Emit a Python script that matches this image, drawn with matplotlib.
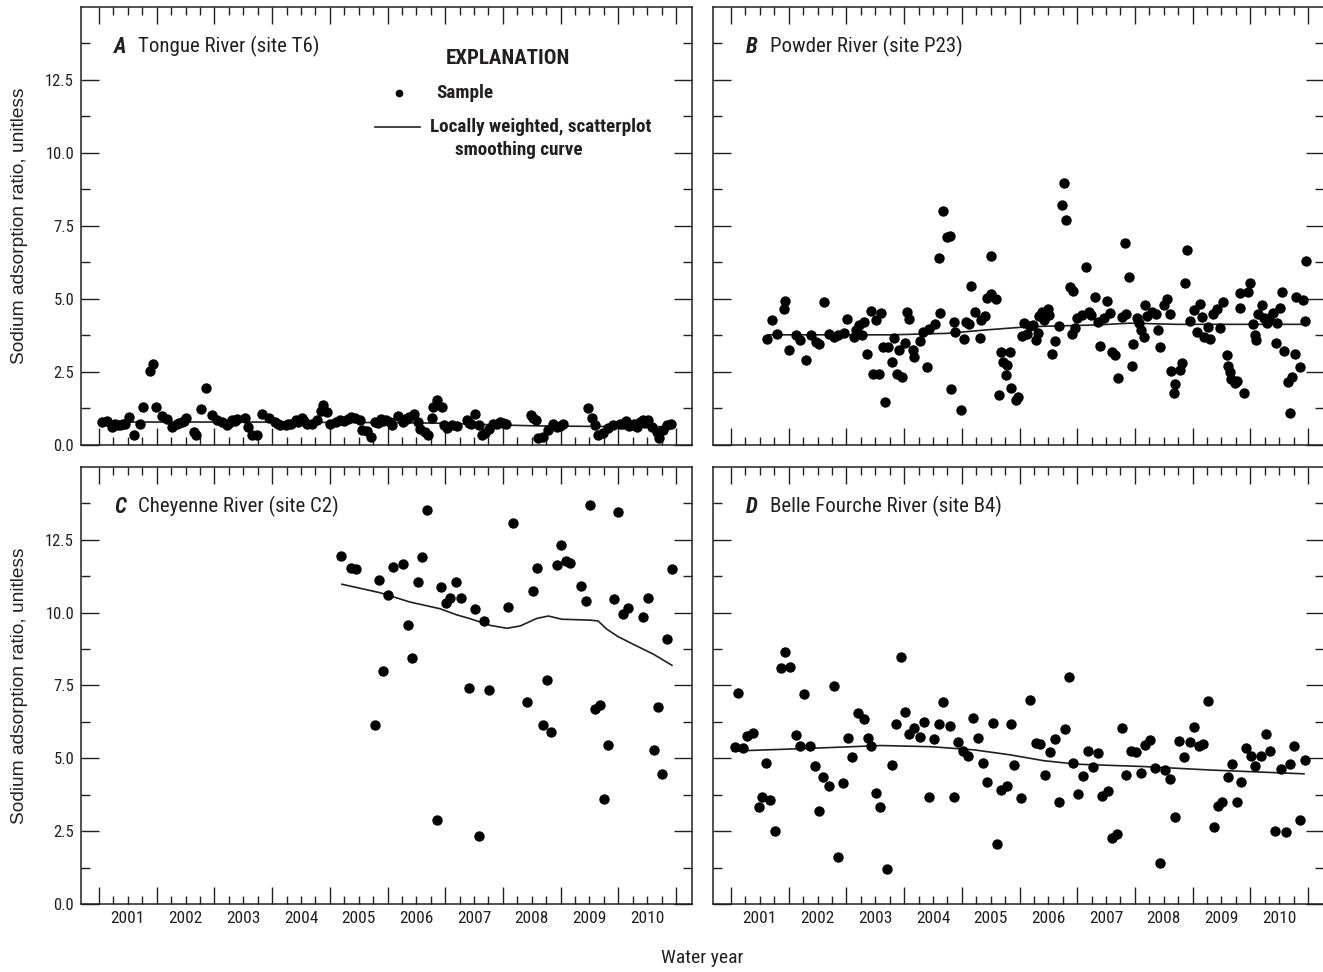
import matplotlib
matplotlib.use('Agg')
import matplotlib.pyplot as plt
from matplotlib import font_manager
from matplotlib.ticker import FixedLocator, FixedFormatter, NullFormatter
from matplotlib.lines import Line2D
import numpy as np

# ---------------- data (decimal calendar year, SAR) ----------------
a_year = [2000.81, 2000.89, 2000.98, 2001.03, 2001.12, 2001.20, 2001.27, 2001.36, 2001.46, 2001.52,
          2001.64, 2001.68, 2001.74, 2001.84, 2001.93, 2002.02, 2002.10, 2002.18, 2002.26, 2002.40,
          2002.43, 2002.52, 2002.60, 2002.71, 2002.80, 2002.88, 2002.97, 2003.06, 2003.14, 2003.28,
          2003.33, 2003.41, 2003.49, 2003.58, 2003.69, 2003.80, 2003.89, 2003.99, 2004.08, 2004.16,
          2004.27, 2004.35, 2004.44, 2004.53, 2004.60, 2004.64, 2004.70, 2004.76, 2004.85, 2004.93,
          2005.11, 2005.19, 2005.28, 2005.31, 2005.39, 2005.47, 2005.54, 2005.63, 2005.72, 2005.80,
          2005.83, 2005.93, 2006.05, 2006.12, 2006.21, 2006.27, 2006.31, 2006.40, 2006.46, 2006.52,
          2006.54, 2006.60, 2006.69, 2006.73, 2006.78, 2006.86, 2006.95, 2007.12, 2007.20, 2007.27,
          2007.34, 2007.38, 2007.44, 2007.51, 2007.58, 2007.70, 2007.80, 2008.23, 2008.32, 2008.36,
          2008.45, 2008.54, 2008.61, 2008.68, 2008.80, 2009.23, 2009.29, 2009.35, 2009.40, 2009.49,
          2009.58, 2009.66, 2009.78, 2009.88, 2009.98, 2010.07, 2010.17, 2010.27, 2010.33, 2010.42,
          2010.46, 2010.53, 2010.59, 2010.66,
          2001.07, 2001.16, 2002.14, 2002.22, 2003.01, 2003.10, 2003.85, 2004.03, 2004.20, 2004.31,
          2005.00, 2005.06, 2005.58, 2005.68, 2006.01, 2006.09, 2007.16, 2007.64, 2007.75, 2008.27,
          2008.74, 2009.83, 2009.93, 2010.02, 2010.12, 2010.22]
a_sar = [0.77, 0.80, 0.60, 0.72, 0.66, 0.72, 0.95, 0.32, 0.69, 1.30,
         2.52, 2.76, 1.28, 0.97, 0.87, 0.60, 0.72, 0.78, 0.90, 0.42,
         0.31, 1.21, 1.95, 1.00, 0.83, 0.78, 0.66, 0.83, 0.87, 0.90,
         0.60, 0.32, 0.34, 1.03, 0.90, 0.78, 0.66, 0.66, 0.72, 0.83,
         0.90, 0.72, 0.72, 0.83, 1.14, 1.35, 1.12, 0.72, 0.78, 0.83,
         0.95, 0.90, 0.83, 0.49, 0.46, 0.27, 0.78, 0.87, 0.83, 0.78,
         0.66, 0.97, 0.88, 0.94, 1.06, 0.78, 0.53, 0.44, 0.32, 0.90,
         1.28, 1.53, 1.30, 0.66, 0.55, 0.66, 0.64, 0.83, 0.69, 1.06,
         0.66, 0.32, 0.38, 0.53, 0.72, 0.78, 0.72, 1.00, 0.83, 0.21,
         0.26, 0.49, 0.72, 0.60, 0.69, 1.24, 0.90, 0.66, 0.32, 0.38,
         0.55, 0.66, 0.72, 0.80, 0.66, 0.60, 0.83, 0.83, 0.60, 0.43,
         0.23, 0.49, 0.66, 0.72,
         0.66, 0.70, 0.74, 0.80, 0.74, 0.80, 0.70, 0.70, 0.78, 0.80,
         0.80, 0.86, 0.74, 0.80, 0.76, 0.86, 0.74, 0.70, 0.74, 0.90,
         0.64, 0.70, 0.64, 0.70, 0.76, 0.74]
a_fit_year = [2000.80, 2003.40, 2005.80, 2006.70, 2007.50, 2008.30, 2009.30, 2010.66]
a_fit_sar = [0.77, 0.77, 0.75, 0.73, 0.68, 0.64, 0.62, 0.61]

b_year = [2001.37, 2001.46, 2001.54, 2001.66, 2001.68, 2001.76, 2001.88, 2001.95, 2002.05, 2002.14,
          2002.23, 2002.28, 2002.37, 2002.44, 2002.53, 2002.61, 2002.70, 2002.76, 2002.88, 2002.92,
          2002.96, 2003.02, 2003.06, 2003.10, 2003.18, 2003.21, 2003.27, 2003.31, 2003.35, 2003.38,
          2003.42, 2003.47, 2003.54, 2003.58, 2003.63, 2003.67, 2003.71, 2003.77, 2003.80, 2003.84,
          2003.90, 2003.93, 2004.02, 2004.07, 2004.15, 2004.19, 2004.29, 2004.36, 2004.38, 2004.43,
          2004.49, 2004.55, 2004.57, 2004.62, 2004.64, 2004.74, 2004.78, 2004.83, 2004.88, 2004.91,
          2004.98, 2005.07, 2005.09, 2005.16, 2005.19, 2005.25, 2005.26, 2005.35, 2005.39, 2005.43,
          2005.46, 2005.52, 2005.53, 2005.59, 2005.61, 2005.69, 2005.73, 2005.80, 2005.82, 2005.88,
          2005.93, 2005.99, 2006.03, 2006.07, 2006.08, 2006.14, 2006.17, 2006.24, 2006.26, 2006.32,
          2006.36, 2006.43, 2006.49, 2006.52, 2006.56, 2006.63, 2006.66, 2006.68, 2006.72, 2006.75,
          2006.84, 2006.91, 2006.95, 2006.99, 2007.05, 2007.11, 2007.15, 2007.21, 2007.27, 2007.32,
          2007.36, 2007.41, 2007.46, 2007.53, 2007.57, 2007.60, 2007.64, 2007.70, 2007.72, 2007.79,
          2007.82, 2007.86, 2007.90, 2007.93, 2007.96, 2008.05, 2008.11, 2008.15, 2008.18, 2008.25,
          2008.30, 2008.36, 2008.38, 2008.42, 2008.45, 2008.53, 2008.57, 2008.61, 2008.66, 2008.71,
          2008.78, 2008.83, 2008.87, 2008.92, 2008.94, 2009.02, 2009.06, 2009.11, 2009.18, 2009.23,
          2009.27, 2009.34, 2009.36, 2009.40, 2009.42, 2009.48, 2009.52, 2009.57, 2009.58, 2009.64,
          2009.71, 2009.74, 2009.80, 2009.84, 2009.85, 2009.88, 2009.96, 2009.98, 2010.04, 2010.07,
          2010.15, 2010.19, 2010.22, 2010.27, 2010.30, 2010.34, 2010.40, 2010.43, 2010.48, 2010.53,
          2010.55, 2010.62, 2010.67, 2010.69, 2010.72]
b_sar = [3.63, 4.26, 3.80, 4.66, 4.92, 3.24, 3.74, 3.58, 2.89, 3.76,
         3.53, 3.45, 4.88, 3.79, 3.68, 3.76, 3.83, 4.30, 3.70, 3.93,
         4.10, 3.76, 4.21, 3.10, 4.57, 2.42, 4.27, 2.42, 4.50, 3.33,
         1.45, 3.35, 2.82, 3.64, 2.41, 3.24, 2.33, 3.47, 4.55, 4.30,
         3.24, 3.01, 3.56, 3.87, 2.67, 3.95, 4.13, 6.40, 4.50, 8.01,
         7.11, 7.15, 1.89, 4.19, 3.85, 1.18, 3.62, 4.21, 4.13, 5.45,
         4.55, 3.66, 4.27, 4.42, 5.01, 6.46, 5.16, 4.98, 1.70, 3.18,
         2.84, 2.38, 2.73, 3.18, 1.93, 1.53, 1.64, 3.73, 4.16, 3.79,
         4.07, 4.10, 3.58, 3.81, 4.42, 4.55, 4.27, 4.64, 4.44, 3.10,
         3.54, 4.06, 8.21, 8.96, 7.70, 5.41, 3.79, 5.27, 3.98, 4.35,
         4.44, 6.08, 4.55, 4.44, 5.05, 4.21, 3.39, 4.33, 4.93, 4.52,
         3.18, 3.07, 2.27, 4.38, 6.92, 4.47, 5.75, 2.69, 3.45, 4.33,
         4.16, 3.93, 3.70, 4.78, 4.42, 4.55, 4.47, 3.93, 3.35, 4.78,
         4.98, 4.47, 2.52, 1.78, 2.07, 2.55, 2.78, 5.53, 6.67, 4.25,
         4.61, 3.87, 4.82, 4.38, 3.70, 4.04, 3.61, 4.47, 4.64, 3.98,
         4.90, 3.07, 2.69, 2.50, 2.24, 2.10, 2.19, 5.19, 4.67, 1.76,
         5.24, 5.53, 4.13, 3.76, 3.58, 4.47, 4.78, 4.33, 4.16, 4.33,
         4.52, 3.49, 4.16, 4.67, 5.22, 3.22, 2.15, 1.07, 2.33, 3.10,
         5.07, 2.65, 4.96, 4.24, 6.29]
b_fit_year = [2001.39, 2003.51, 2004.49, 2005.18, 2005.92, 2007.10, 2007.66, 2008.47, 2010.72]
b_fit_sar = [3.76, 3.76, 3.81, 3.93, 4.04, 4.10, 4.16, 4.12, 4.12]

c_year = [2004.94, 2005.12, 2005.20, 2005.53, 2005.61, 2005.68, 2005.76, 2005.84, 2006.01, 2006.10,
          2006.17, 2006.27, 2006.34, 2006.43, 2006.60, 2006.68, 2006.76, 2006.83, 2006.94, 2007.02,
          2007.17, 2007.27, 2007.34, 2007.43, 2007.51, 2007.84, 2007.92, 2008.16, 2008.27, 2008.34,
          2008.44, 2008.51, 2008.58, 2008.68, 2008.76, 2008.84, 2008.92, 2009.10, 2009.19, 2009.26,
          2009.35, 2009.43, 2009.51, 2009.58, 2009.68, 2009.75, 2009.84, 2009.91, 2010.17, 2010.27,
          2010.37, 2010.43, 2010.50, 2010.60, 2010.68]
c_sar = [11.94, 11.52, 11.48, 6.15, 11.12, 8.00, 10.60, 11.57, 11.68, 9.56,
         8.45, 11.03, 11.92, 13.52, 2.89, 10.89, 10.34, 10.51, 11.03, 10.51,
         7.42, 10.13, 2.34, 9.71, 7.33, 10.20, 13.08, 6.94, 10.74, 11.53,
         6.13, 7.69, 5.91, 11.62, 12.31, 11.77, 11.71, 10.91, 10.40, 13.69,
         6.68, 6.82, 3.60, 5.45, 10.46, 13.45, 9.94, 10.15, 9.86, 10.51,
         5.29, 6.77, 4.45, 9.10, 11.48]
c_fit_year = [2004.96, 2005.62, 2006.14, 2006.66, 2006.95, 2007.18, 2007.53, 2007.82, 2008.05, 2008.34,
              2008.54, 2008.77, 2009.26, 2009.40, 2009.55, 2009.75, 2010.01, 2010.36, 2010.68]
c_fit_sar = [10.97, 10.68, 10.36, 10.13, 9.92, 9.79, 9.56, 9.46, 9.54, 9.80,
             9.88, 9.77, 9.74, 9.71, 9.43, 9.17, 8.91, 8.57, 8.19]

d_year = [2000.82, 2000.87, 2000.95, 2001.02, 2001.13, 2001.23, 2001.28, 2001.35, 2001.43, 2001.52,
          2001.61, 2001.69, 2001.78, 2001.87, 2001.94, 2002.01, 2002.12, 2002.20, 2002.27, 2002.35,
          2002.44, 2002.53, 2002.61, 2002.69, 2002.77, 2002.84, 2002.95, 2003.05, 2003.12, 2003.18,
          2003.27, 2003.34, 2003.46, 2003.54, 2003.61, 2003.69, 2003.77, 2003.84, 2003.93, 2004.02,
          2004.10, 2004.19, 2004.26, 2004.35, 2004.43, 2004.54, 2004.61, 2004.69, 2004.77, 2004.85,
          2004.94, 2005.03, 2005.11, 2005.19, 2005.29, 2005.36, 2005.43, 2005.54, 2005.61, 2005.65,
          2005.78, 2005.94, 2006.03, 2006.11, 2006.19, 2006.28, 2006.36, 2006.43, 2006.53, 2006.60,
          2006.68, 2006.77, 2006.85, 2006.94, 2007.03, 2007.11, 2007.18, 2007.28, 2007.36, 2007.44,
          2007.52, 2007.60, 2007.69, 2007.77, 2007.85, 2007.93, 2008.02, 2008.10, 2008.18, 2008.27,
          2008.36, 2008.44, 2008.52, 2008.60, 2008.70, 2008.77, 2008.86, 2008.93, 2009.02, 2009.12,
          2009.19, 2009.26, 2009.36, 2009.44, 2009.52, 2009.59, 2009.68, 2009.77, 2009.84, 2009.93,
          2010.03, 2010.09, 2010.17, 2010.29, 2010.37, 2010.43, 2010.51, 2010.61, 2010.69]
d_sar = [5.38, 7.25, 5.35, 5.77, 5.86, 3.34, 3.69, 4.85, 3.57, 2.52,
         8.09, 8.66, 8.14, 5.80, 5.44, 7.21, 5.44, 4.74, 3.20, 4.35,
         4.05, 7.49, 1.63, 4.15, 5.69, 5.04, 6.55, 6.34, 5.69, 5.44,
         3.80, 3.32, 1.20, 4.77, 6.17, 8.49, 6.59, 5.83, 6.05, 5.74,
         6.26, 3.69, 5.68, 6.17, 6.92, 6.12, 3.69, 5.55, 5.26, 5.08,
         6.40, 5.69, 4.83, 4.18, 6.22, 2.05, 3.92, 4.05, 6.18, 4.77,
         3.65, 7.00, 5.52, 5.48, 4.43, 5.22, 5.65, 3.50, 6.01, 7.78,
         4.83, 3.78, 4.40, 5.25, 4.71, 5.20, 3.71, 3.89, 2.26, 2.41,
         6.03, 4.43, 5.25, 5.21, 4.51, 5.46, 5.63, 4.66, 1.42, 4.60,
         4.28, 3.00, 5.61, 5.04, 5.55, 6.09, 5.43, 5.49, 6.98, 2.64,
         3.37, 3.50, 4.35, 4.81, 3.50, 4.18, 5.37, 5.08, 4.75, 5.09,
         5.83, 5.25, 2.50, 4.64, 2.49, 4.80, 5.44, 2.89, 4.95]
d_fit_year = [2000.78, 2002.20, 2003.35, 2004.22, 2004.97, 2005.59, 2006.17, 2006.75, 2007.90, 2009.06, 2010.68]
d_fit_sar = [5.25, 5.35, 5.44, 5.40, 5.29, 5.12, 4.92, 4.80, 4.72, 4.60, 4.47]

panel_letters = ['A', 'B', 'C', 'D']
panel_titles = ['Tongue River (site T6)', 'Powder River (site P23)',
                'Cheyenne River (site C2)', 'Belle Fourche River (site B4)']
water_years = [str(y) for y in range(2001, 2011)]
y_major = [0.0, 2.5, 5.0, 7.5, 10.0, 12.5]
y_labels = ['0.0', '2.5', '5.0', '7.5', '10.0', '12.5']
y_minor = [1.25, 3.75, 6.25, 8.75, 11.25, 13.75]

# ---------------- fonts ----------------
fl = font_manager.fontManager.ttflist
names = {f.name for f in fl}
COND, STRETCH = None, 'normal'
for cand in ['Liberation Sans Narrow', 'Roboto Condensed', 'Open Sans Condensed',
             'DejaVu Sans Condensed', 'Noto Sans Condensed', 'Arial Narrow']:
    if cand in names:
        COND = cand
        break
if COND is None:
    for pref in ['Roboto', 'Noto Sans', 'Open Sans', 'Inter', 'DejaVu Sans']:
        if any(f.name == pref and str(f.stretch) in ('condensed', 'semi-condensed', '75', '87')
               for f in fl):
            COND, STRETCH = pref, 'condensed'
            break
if COND is None:
    COND = 'Roboto' if 'Roboto' in names else 'DejaVu Sans'
REG = 'Liberation Sans' if 'Liberation Sans' in names else 'DejaVu Sans'
plt.rcParams['font.family'] = [COND, 'DejaVu Sans']
plt.rcParams['font.stretch'] = STRETCH
INK = '#231f20'

W, H = 1323.0, 972.0
fig = plt.figure(figsize=(W / 100, H / 100), dpi=100)
AW, AH = 611.0, 437.5
lefts = [81, 713, 81, 713]
tops = [7, 7, 466.7, 466.7]

# tick positions in decimal calendar years (water year starts Oct 1)
boundaries = [2000.75 + k for k in range(11)]
quarters, qlabels = [], []
for k in range(10):
    for q in (0.25, 0.5, 0.75):
        quarters.append(2000.75 + k + q)
        qlabels.append(water_years[k] if q == 0.5 else '')

datasets = [(a_year, a_sar, a_fit_year, a_fit_sar),
            (b_year, b_sar, b_fit_year, b_fit_sar),
            (c_year, c_sar, c_fit_year, c_fit_sar),
            (d_year, d_sar, d_fit_year, d_fit_sar)]

axes = []
for i in range(4):
    ax = fig.add_axes([lefts[i] / W, 1 - (tops[i] + AH) / H, AW / W, AH / H])
    axes.append(ax)
    xs, ys, fx, fy = datasets[i]
    ax.scatter(xs, ys, s=56, color='black', linewidths=0, zorder=3)
    ax.plot(fx, fy, color=INK, lw=1.2, zorder=2)
    ax.set_xlim(2000.75 - 18 / 57.7, 2010.75 + 16 / 57.7)
    ax.set_ylim(0, 15)
    for s in ax.spines.values():
        s.set_linewidth(1.1)
        s.set_color(INK)
    ax.xaxis.set_major_locator(FixedLocator(boundaries))
    ax.xaxis.set_major_formatter(NullFormatter())
    ax.xaxis.set_minor_locator(FixedLocator(quarters))
    ax.xaxis.set_minor_formatter(FixedFormatter(qlabels))
    ax.yaxis.set_major_locator(FixedLocator(y_major))
    ax.yaxis.set_major_formatter(FixedFormatter(y_labels))
    ax.yaxis.set_minor_locator(FixedLocator(y_minor))
    ax.tick_params(axis='x', which='both', direction='in', top=True, bottom=True,
                   width=1.0, color=INK, labelsize=12.5, labelcolor=INK)
    ax.tick_params(axis='x', which='major', length=12.5)
    ax.tick_params(axis='x', which='minor', length=6, pad=5)
    ax.tick_params(axis='y', which='both', direction='in', left=True, right=True,
                   width=1.0, color=INK, labelsize=12, labelcolor=INK, pad=5)
    ax.tick_params(axis='y', which='major', length=13)
    ax.tick_params(axis='y', which='minor', length=6.5)
    if i in (0, 1):
        ax.tick_params(axis='x', which='both', labelbottom=False)
    if i in (1, 3):
        ax.tick_params(axis='y', which='both', labelleft=False)
    ax.text(0.054, 0.909, panel_letters[i], transform=ax.transAxes, fontsize=15.5,
            fontweight='bold', fontstyle='italic', va='center', ha='left', color=INK)
    ax.text(0.093, 0.909, panel_titles[i], transform=ax.transAxes, fontsize=15,
            va='center', ha='left', color=INK)

# explanation in panel A
axA = axes[0]
axA.text(0.699, 0.883, 'EXPLANATION', transform=axA.transAxes, fontsize=15,
         fontweight='bold', ha='center', va='center', color=INK)
axA.add_line(Line2D([0.520], [0.803], transform=axA.transAxes, marker='o', ms=4.5,
                    color='black', lw=0))
axA.text(0.581, 0.803, 'Sample', transform=axA.transAxes, fontsize=13.8,
         fontweight='bold', ha='left', va='center', color=INK)
axA.add_line(Line2D([0.481, 0.555], [0.726, 0.726], transform=axA.transAxes,
                    color=INK, lw=1.2))
axA.text(0.571, 0.726, 'Locally weighted, scatterplot', transform=axA.transAxes,
         fontsize=13.8, fontweight='bold', ha='left', va='center', color=INK)
axA.text(0.716, 0.673, 'smoothing curve', transform=axA.transAxes,
         fontsize=13.8, fontweight='bold', ha='center', va='center', color=INK)

ylab = 'Sodium adsorption ratio, unitless'
fig.text(20 / W, 1 - 226 / H, ylab, rotation=90, ha='center', va='center',
         fontsize=13.8, family=[REG, 'DejaVu Sans'], color=INK)
fig.text(20 / W, 1 - 685.5 / H, ylab, rotation=90, ha='center', va='center',
         fontsize=13.8, family=[REG, 'DejaVu Sans'], color=INK)
fig.text(702 / W, 1 - 958 / H, 'Water year', ha='center', va='center',
         fontsize=14, family=[COND, 'DejaVu Sans'], color=INK)

fig.savefig('out.png', dpi=100)
